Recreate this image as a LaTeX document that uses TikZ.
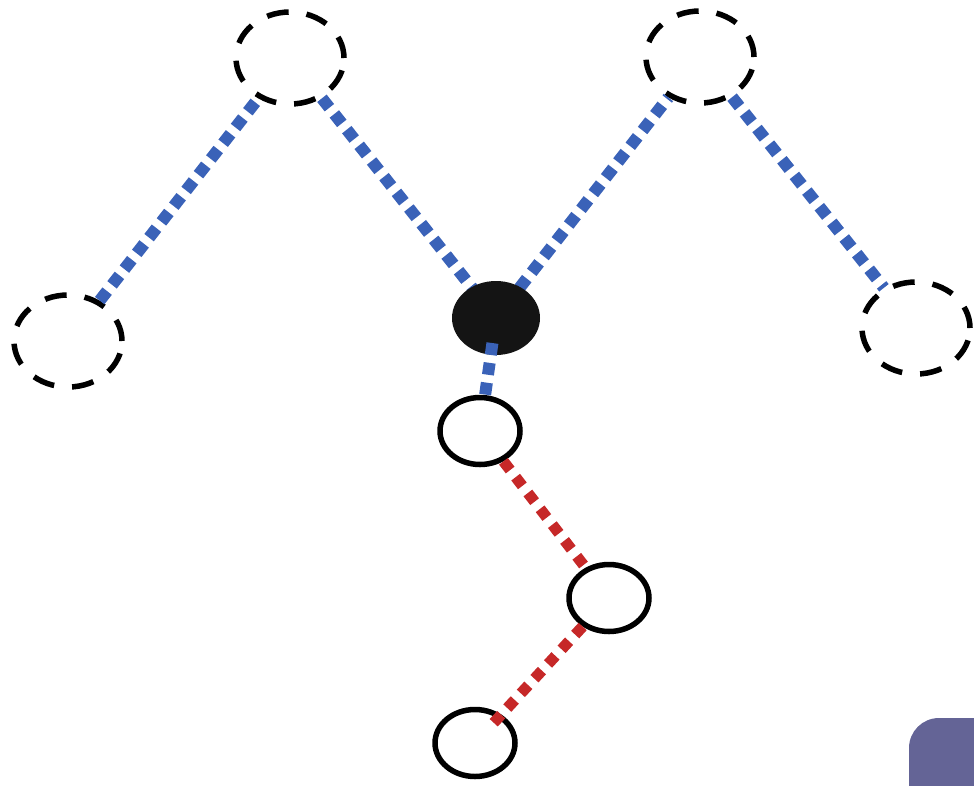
\documentclass[tikz,border=0pt]{standalone}
\usetikzlibrary{shapes.geometric}
\definecolor{linkblue}{HTML}{3A62B8}
\definecolor{linkred}{HTML}{C62828}
\definecolor{tabpurple}{HTML}{646496}
\tikzset{
  ghost/.style={ellipse, draw=black, line width=5.5pt, dash pattern=on 22pt off 18pt, inner sep=0pt, minimum width=108pt, minimum height=92pt},
  hollow/.style={ellipse, draw=black, line width=5.5pt, inner sep=0pt, minimum width=80pt, minimum height=67pt},
  core/.style={ellipse, fill=black!92, inner sep=0pt, minimum width=88pt, minimum height=74pt},
  bluelink/.style={draw=linkblue, line width=12pt, dash pattern=on 12pt off 8pt},
  redlink/.style={draw=linkred, line width=11pt, dash pattern=on 11pt off 9pt},
}
\begin{document}
\begin{tikzpicture}[x=1pt,y=-1pt]
\useasboundingbox (0,0) rectangle (974,785);
\fill[tabpurple, rounded corners=30pt] (909,718) rectangle (1010,820);
% nodes
\node[ghost] (tl) at (290,58) {};
\node[ghost] (tr) at (700,57) {};
\node[ghost] (l) at (68,341) {};
\node[ghost] (r) at (916,328) {};
\node[hollow] (c1) at (480,431) {};
\node[hollow] (c2) at (609,598) {};
\node[hollow] (c3) at (475,743) {};
\coordinate (corec) at (496,318);
% links
\draw[bluelink] (l) -- (tl);
\draw[bluelink, shorten >=-22pt] (tl) -- (corec);
\draw[bluelink, shorten <=-22pt] (corec) -- (tr);
\draw[bluelink] (tr) -- (r);
\node[core] (core) at (corec) {};
\draw[bluelink, shorten <=-12pt] (core) -- (c1);
\draw[redlink] (c1) -- (c2);
\draw[redlink, shorten >=-16pt] (c2) -- (c3);
\end{tikzpicture}
\end{document}
